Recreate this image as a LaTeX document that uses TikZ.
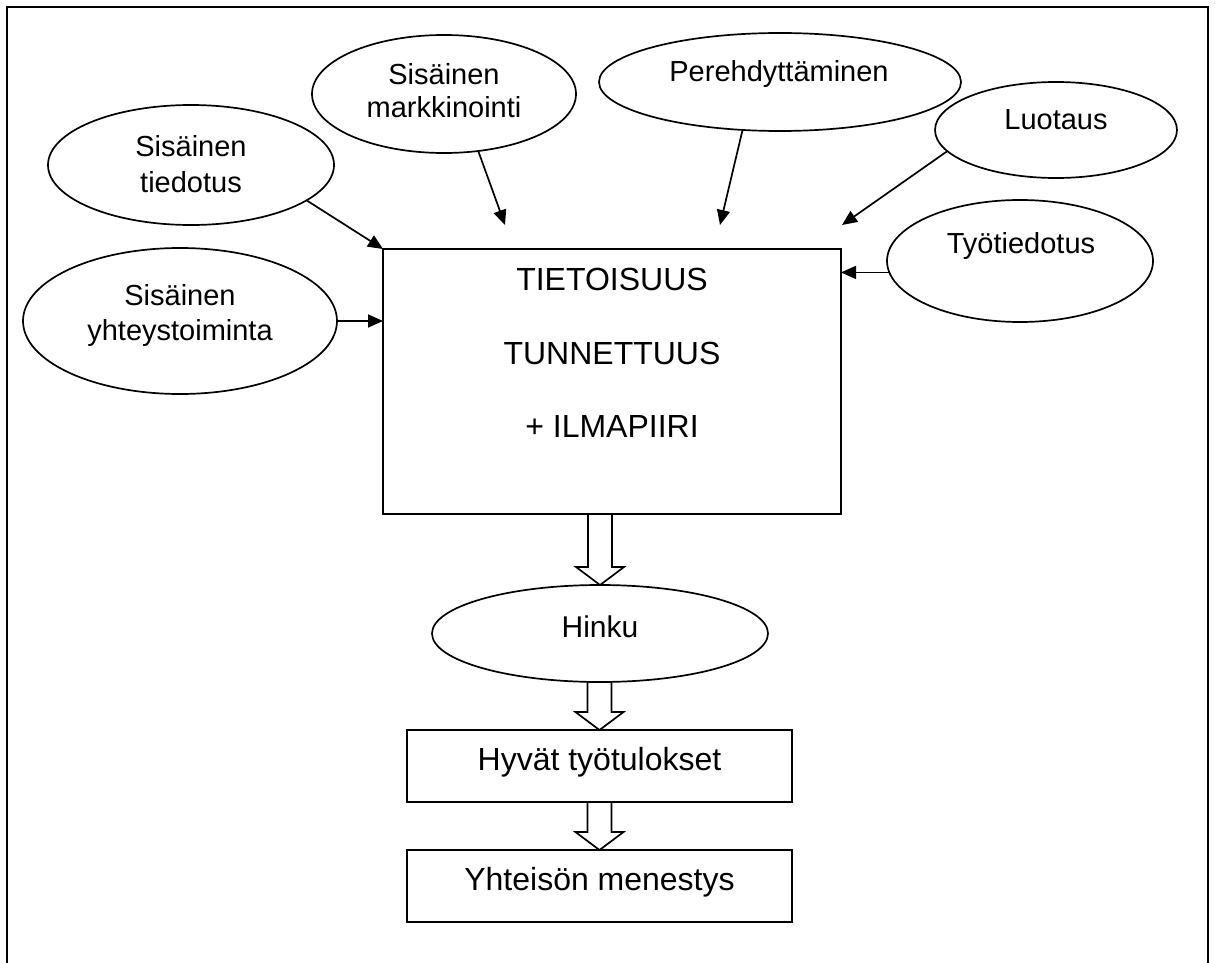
\documentclass[tikz,border=0pt]{standalone}
\usepackage{fontspec}
\setmainfont{Liberation Sans}
\usetikzlibrary{shapes.geometric,arrows.meta,calc}
\begin{document}
\begin{tikzpicture}[x=1pt,y=-1pt,
  oval/.style={draw,ellipse,line width=1.7pt,inner sep=0pt,outer sep=0pt},
  box/.style={draw,rectangle,line width=1.7pt,inner sep=0pt,outer sep=0pt},
  ovaltext/.style={anchor=base,inner sep=0pt,font=\fontsize{29}{35}\selectfont},
  boxtext/.style={anchor=base,inner sep=0pt,font=\fontsize{32}{38}\selectfont},
  conn/.style={line width=1.7pt,-{Triangle[length=15pt,width=13pt]}},
  blockarrow/.style={draw,line width=1.7pt,line join=miter},
  frame/.style={line width=2.8pt}]
\useasboundingbox (0,0) rectangle (1215,963);
\draw[frame] (7,963) -- (7,7) -- (1208,7) -- (1208,963);

% ellipses
\node[oval,minimum width=286pt,minimum height=120pt] (tied) at (191,165) {};
\node[oval,minimum width=264pt,minimum height=118pt] (mark) at (444,94) {};
\node[oval,minimum width=362pt,minimum height=98pt] (pere) at (780,82) {};
\node[oval,minimum width=242pt,minimum height=96pt] (luot) at (1056,130) {};
\node[oval,minimum width=266pt,minimum height=122pt] (tyot) at (1020,261) {};
\node[oval,minimum width=314pt,minimum height=146pt] (yht) at (180,321) {};
\node[oval,minimum width=336pt,minimum height=97pt] (hinku) at (600,633.5) {};

% texts of ellipses
\node[ovaltext] (tiedA) at (191,157) {Sisäinen};
\node[ovaltext] (tiedB) at (191,192) {tiedotus};
\node[ovaltext] (markA) at (444,85) {Sisäinen};
\node[ovaltext] (markB) at (444,118) {markkinointi};
\node[ovaltext] (pereA) at (779,82) {Perehdyttäminen};
\node[ovaltext] (luotA) at (1056,130) {Luotaus};
\node[ovaltext] (tyotA) at (1021,253) {Työtiedotus};
\node[ovaltext] (yhtA) at (180,305) {Sisäinen};
\node[ovaltext] (yhtB) at (180,340) {yhteystoiminta};
\node[ovaltext,font=\fontsize{30}{36}\selectfont] (hinkuA) at (600,637) {Hinku};

% boxes
\node[box,minimum width=458pt,minimum height=265pt] (main) at (612,381.5) {};
\node[boxtext] (mainA) at (612,290) {TIETOISUUS};
\node[boxtext] (mainB) at (612,364) {TUNNETTUUS};
\node[boxtext] (mainC) at (612,437) {+ ILMAPIIRI};
\node[box,minimum width=385pt,minimum height=72pt] (hyvat) at (599.5,766) {};
\node[boxtext] (hyvatA) at (599.5,770) {Hyvät työtulokset};
\node[box,minimum width=385pt,minimum height=72pt] (yht2) at (599.5,886) {};
\node[boxtext] (yht2A) at (599.5,890) {Yhteisön menestys};

% thin arrows
\coordinate (pM) at (505,225);
\coordinate (pP) at (720,225);
\coordinate (pL) at (842,225);
\draw[conn] (tied.-17) -- (main.north west);
\draw[conn] (mark.-59) -- (pM);
\draw[conn] (pere.-128) -- (pP);
\draw[conn] (luot.-169) -- (pL);
\draw[conn] (tyot.-175) -- (tyot.-175 -| main.east);
\draw[conn] (yht.east) -- (yht.east -| main.west);

% block arrows
\newcommand\blockarr[2]{\draw[blockarrow] let \p1=(#1.south), \p2=(#2.north) in
  (\x2-12pt,\y1) -- (\x2-12pt,\y2+18pt) -- (\x2-24pt,\y2+18pt) -- (\x2,\y2)
  -- (\x2+24pt,\y2+18pt) -- (\x2+12pt,\y2+18pt) -- (\x2+12pt,\y1);}
\blockarr{main}{hinku}
\blockarr{hinku}{hyvat}
\blockarr{hyvat}{yht2}
\end{tikzpicture}
\end{document}
